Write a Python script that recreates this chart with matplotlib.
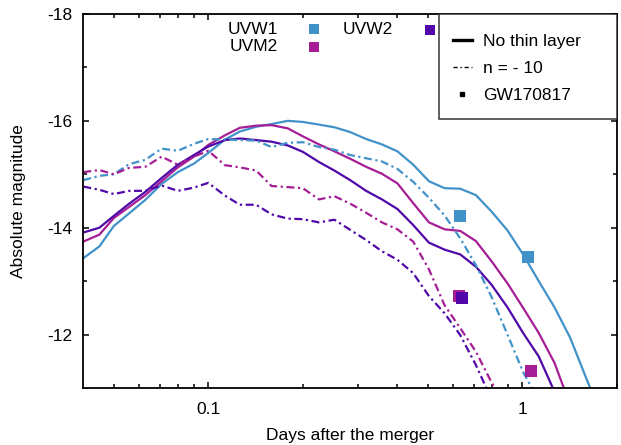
import matplotlib
matplotlib.use("Agg")
import matplotlib.pyplot as plt
from matplotlib.lines import Line2D
from matplotlib.patches import Rectangle
from matplotlib.ticker import FixedLocator, NullFormatter

plt.rcParams['font.family'] = ['Liberation Sans', 'DejaVu Sans']
plt.rcParams['axes.unicode_minus'] = False

# time grid (days after the merger), log-spaced
days = [0.040, 0.045, 0.050, 0.056, 0.063, 0.071, 0.080, 0.090, 0.100, 0.113,
        0.126, 0.142, 0.159, 0.179, 0.200, 0.225, 0.252, 0.283, 0.318, 0.357,
        0.400, 0.449, 0.504, 0.565, 0.634, 0.711, 0.798, 0.896, 1.005, 1.127,
        1.265, 1.419, 1.592, 1.787]

# model light curves without a thin layer (solid)
uvw1_solid = [-13.43, -13.65, -14.03, -14.27, -14.52, -14.82, -15.04, -15.20, -15.40, -15.65,
              -15.80, -15.89, -15.94, -16.00, -15.98, -15.93, -15.88, -15.79, -15.66, -15.56,
              -15.43, -15.18, -14.87, -14.74, -14.73, -14.61, -14.30, -13.95, -13.50, -13.00,
              -12.51, -11.94, -11.20, -10.47]
uvm2_solid = [-13.74, -13.87, -14.18, -14.39, -14.61, -14.87, -15.13, -15.33, -15.55, -15.73,
              -15.87, -15.91, -15.92, -15.86, -15.71, -15.56, -15.43, -15.29, -15.14, -15.01,
              -14.83, -14.46, -14.10, -13.97, -13.94, -13.75, -13.37, -12.96, -12.50, -12.03,
              -11.47, -10.68]
uvw2_solid = [-13.91, -14.00, -14.22, -14.45, -14.67, -14.93, -15.18, -15.36, -15.52, -15.64,
              -15.67, -15.64, -15.61, -15.54, -15.42, -15.23, -15.07, -14.89, -14.69, -14.53,
              -14.35, -14.05, -13.72, -13.59, -13.50, -13.27, -12.93, -12.51, -12.03, -11.59,
              -10.93]

# model light curves with n = -10 (dash-dot)
uvw1_n10 = [-14.89, -14.97, -15.00, -15.19, -15.27, -15.48, -15.44, -15.57, -15.66, -15.65,
            -15.64, -15.63, -15.51, -15.59, -15.60, -15.51, -15.46, -15.36, -15.30, -15.24,
            -15.10, -14.86, -14.56, -14.23, -13.80, -13.30, -12.70, -12.00, -11.30, -10.76]
uvm2_n10 = [-15.04, -15.08, -15.00, -15.12, -15.14, -15.33, -15.18, -15.33, -15.44, -15.17,
            -15.13, -15.07, -14.78, -14.76, -14.74, -14.53, -14.59, -14.45, -14.28, -14.10,
            -13.97, -13.74, -13.22, -12.55, -12.12, -11.68, -11.10, -10.62]
uvw2_n10 = [-14.77, -14.71, -14.63, -14.69, -14.69, -14.79, -14.69, -14.75, -14.84, -14.60,
            -14.43, -14.43, -14.25, -14.17, -14.16, -14.10, -14.15, -13.96, -13.77, -13.56,
            -13.40, -13.15, -12.72, -12.40, -11.99, -11.43, -10.78]

# GW170817 observations
obs_uvw1_t = [0.633, 1.045]
obs_uvw1_m = [-14.22, -13.46]
obs_uvm2_t = [0.629, 1.065]
obs_uvm2_m = [-12.73, -11.32]
obs_uvw2_t = [0.642]
obs_uvw2_m = [-12.68]

band_names = ["UVW1", "UVM2", "UVW2"]
legend_labels = ["No thin layer", "n = - 10", "GW170817"]
xtick_vals = [0.1, 1]
xtick_text = ["0.1", "1"]
ytick_vals = [-18, -16, -14, -12]

c_w1 = "#4292ca"
c_m2 = "#a61e96"
c_w2 = "#5008a8"

W, H = 621, 445
fig = plt.figure(figsize=(W / 100, H / 100), dpi=100)
L, R, T, B = 83.3, 617.0, 14.0, 388.0
ax = fig.add_axes([L / W, 1 - B / H, (R - L) / W, (B - T) / H])

dashdot = (0, (3.6, 1.6, 1.0, 1.6))
lw = 1.6
ax.plot(days[:len(uvw1_solid)], uvw1_solid, color=c_w1, lw=lw)
ax.plot(days[:len(uvm2_solid)], uvm2_solid, color=c_m2, lw=lw)
ax.plot(days[:len(uvw2_solid)], uvw2_solid, color=c_w2, lw=lw)
ax.plot(days[:len(uvw1_n10)], uvw1_n10, color=c_w1, lw=lw, ls=dashdot)
ax.plot(days[:len(uvm2_n10)], uvm2_n10, color=c_m2, lw=lw, ls=dashdot)
ax.plot(days[:len(uvw2_n10)], uvw2_n10, color=c_w2, lw=lw, ls=dashdot)

ms = 8
ax.plot(obs_uvw1_t, obs_uvw1_m, ls='none', marker='s', ms=ms, color=c_w1, mew=0)
ax.plot(obs_uvm2_t, obs_uvm2_m, ls='none', marker='s', ms=ms, color=c_m2, mew=0)
ax.plot(obs_uvw2_t, obs_uvw2_m, ls='none', marker='s', ms=ms, color=c_w2, mew=0)

ax.set_xscale('log')
ax.set_xlim(0.04, 2.0)
ax.set_ylim(-11, -18)

ax.xaxis.set_major_locator(FixedLocator(xtick_vals))
ax.set_xticklabels(xtick_text)
ax.xaxis.set_minor_locator(FixedLocator([0.05, 0.06, 0.07, 0.08, 0.09,
                                         0.2, 0.3, 0.4, 0.5, 0.6, 0.7, 0.8, 0.9, 2.0]))
ax.xaxis.set_minor_formatter(NullFormatter())
ax.set_yticks(ytick_vals)
ax.set_yticklabels([str(v) for v in ytick_vals])
ax.yaxis.set_minor_locator(FixedLocator([-17, -15, -13]))

fs = 12.5
ax.tick_params(which='both', direction='in', top=True, right=True, labelsize=fs, width=1.1)
ax.tick_params(which='major', length=4.5)
ax.tick_params(which='minor', length=2.6)
ax.tick_params(axis='x', which='major', pad=10)
ax.tick_params(axis='y', which='major', pad=8)
for s in ax.spines.values():
    s.set_linewidth(1.3)

ax.set_xlabel("Days after the merger", fontsize=fs)
ax.set_ylabel("Absolute magnitude", fontsize=fs)
ax.xaxis.set_label_coords(0.5, -0.108)
ax.yaxis.set_label_coords(-0.108, 0.5)


def axpt(px, py):
    return ((px - L) / (R - L), (B - py) / (B - T))


# band key at the top of the panel
for name, col, (tx, ty), (sx, sy) in [
        (band_names[0], c_w1, (278, 30), (314, 29)),
        (band_names[1], c_m2, (278, 46.5), (314, 47)),
        (band_names[2], c_w2, (393, 30), (429.5, 29.5))]:
    x0, y0 = axpt(tx, ty)
    ax.text(x0, y0, name, transform=ax.transAxes, ha='right', va='center', fontsize=fs)
    x1, y1 = axpt(sx, sy)
    ax.plot([x1], [y1], marker='s', ms=7.5, mew=0, color=col, transform=ax.transAxes,
            clip_on=False)

# line-style key box
bx0, by0 = axpt(439, 119)
ax.add_patch(Rectangle((bx0, by0), 1 - bx0, 1 - by0, transform=ax.transAxes,
                       fill=True, facecolor='white', edgecolor='#333333', lw=1.1, zorder=4))
handles = [Line2D([], [], color='k', lw=2.4),
           Line2D([], [], color='k', lw=1.0, ls=(0, (3, 2, 1, 2))),
           Line2D([], [], color='k', ls='none', marker='s', ms=2.5)]
lx, ly = axpt(437, 18)
leg = ax.legend(handles, legend_labels, loc='upper left', bbox_to_anchor=(lx, ly),
                bbox_transform=ax.transAxes, frameon=False, fontsize=fs,
                handlelength=1.1, handletextpad=0.65, borderpad=0.9,
                labelspacing=0.68, borderaxespad=0)
leg.set_zorder(5)

fig.savefig("out.png", dpi=100)
